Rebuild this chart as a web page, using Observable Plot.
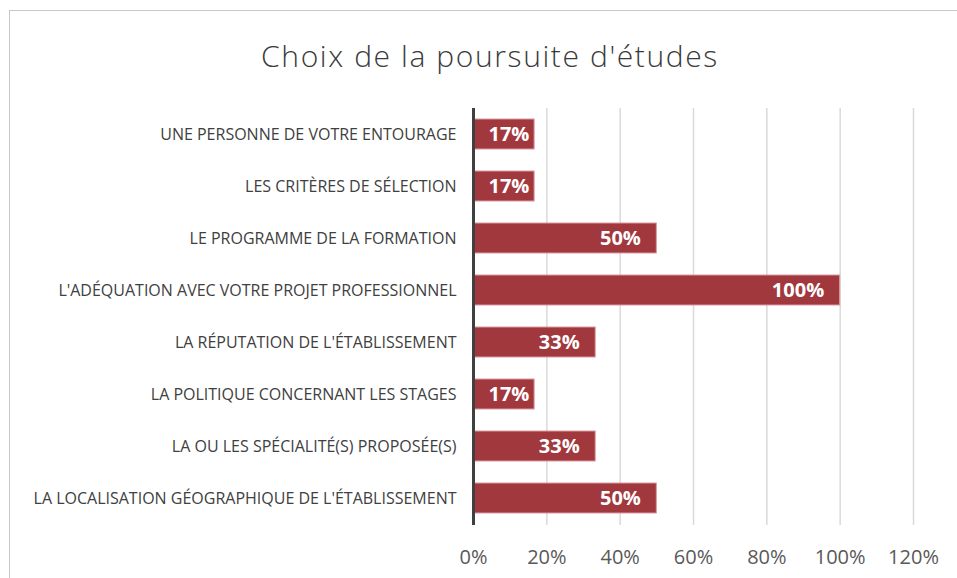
<!DOCTYPE html>
<html>
<head>
<meta charset="utf-8">
<script src="https://cdn.jsdelivr.net/npm/d3@7"></script>
<script src="https://cdn.jsdelivr.net/npm/@observablehq/plot@0.6"></script>
<style>
  html, body { margin: 0; padding: 0; background: #fff; }
  #wrap { position: relative; width: 957px; height: 578px; overflow: hidden; font-family: "Open Sans", sans-serif; }
  #frame { position: absolute; left: 9px; top: 10px; width: 1000px; height: 700px; border: 1.5px solid #c8c8c8; box-sizing: border-box; }
  #title { position: absolute; left: 0; width: 980px; top: 36px; text-align: center; font-size: 30px; letter-spacing: 1.6px; font-weight: 300; color: #3a3a3a; line-height: 40px; }
  #chart { position: absolute; left: 0; top: 0; }
</style>
</head>
<body>
<div id="wrap">
  <div id="frame"></div>
  <div id="title">Choix de la poursuite d'études</div>
  <div id="chart"></div>
</div>
<script>
const categories = [
  "UNE PERSONNE DE VOTRE ENTOURAGE",
  "LES CRITÈRES DE SÉLECTION",
  "LE PROGRAMME DE LA FORMATION",
  "L'ADÉQUATION AVEC VOTRE PROJET PROFESSIONNEL",
  "LA RÉPUTATION DE L'ÉTABLISSEMENT",
  "LA POLITIQUE CONCERNANT LES STAGES",
  "LA OU LES SPÉCIALITÉ(S) PROPOSÉE(S)",
  "LA LOCALISATION GÉOGRAPHIQUE DE L'ÉTABLISSEMENT"
];
const values = [16.67, 16.67, 50, 100, 33.33, 16.67, 33.33, 50];
const xTicks = [0, 20, 40, 60, 80, 100, 120];

const data = categories.map((c, i) => ({category: c, value: values[i]}));
const shortBars = data.filter(d => d.value < 20);
const longBars = data.filter(d => d.value >= 20);
const labelText = d => Math.round(d.value) + "%";

const chart = Plot.plot({
  width: 957,
  height: 578,
  marginTop: 108,
  marginBottom: 53,
  marginLeft: 473,
  marginRight: 44,
  style: {fontFamily: "'Open Sans', sans-serif", background: "transparent"},
  x: {domain: [0, 120], ticks: xTicks, tickFormat: d => d + "%", label: null},
  y: {domain: categories, paddingInner: 0.42, paddingOuter: 0.21, label: null},
  marks: [
    Plot.gridX(xTicks, {stroke: "#d9d9d9", strokeOpacity: 1, strokeWidth: 1.5}),
    Plot.barX(data, {x: "value", y: "category", fill: "#a0383e", stroke: "#d99ca0", strokeWidth: 1}),
    Plot.text(longBars, {x: "value", y: "category", text: labelText, textAnchor: "end", dx: -16, fill: "white", fontWeight: "bold", fontSize: 20}),
    Plot.text(shortBars, {x: 0, y: "category", text: labelText, textAnchor: "start", dx: 15, fill: "white", fontWeight: "bold", fontSize: 20}),
    Plot.ruleX([0], {stroke: "#404040", strokeWidth: 3}),
    Plot.axisX({ticks: xTicks, tickFormat: d => d + "%", tickSize: 0, tickPadding: 24, fontSize: 20, color: "#595959", label: null}),
    Plot.axisY({tickSize: 0, tickPadding: 17, fontSize: 16, color: "#404040", label: null})
  ]
});
document.getElementById("chart").append(chart);
</script>
</body>
</html>
